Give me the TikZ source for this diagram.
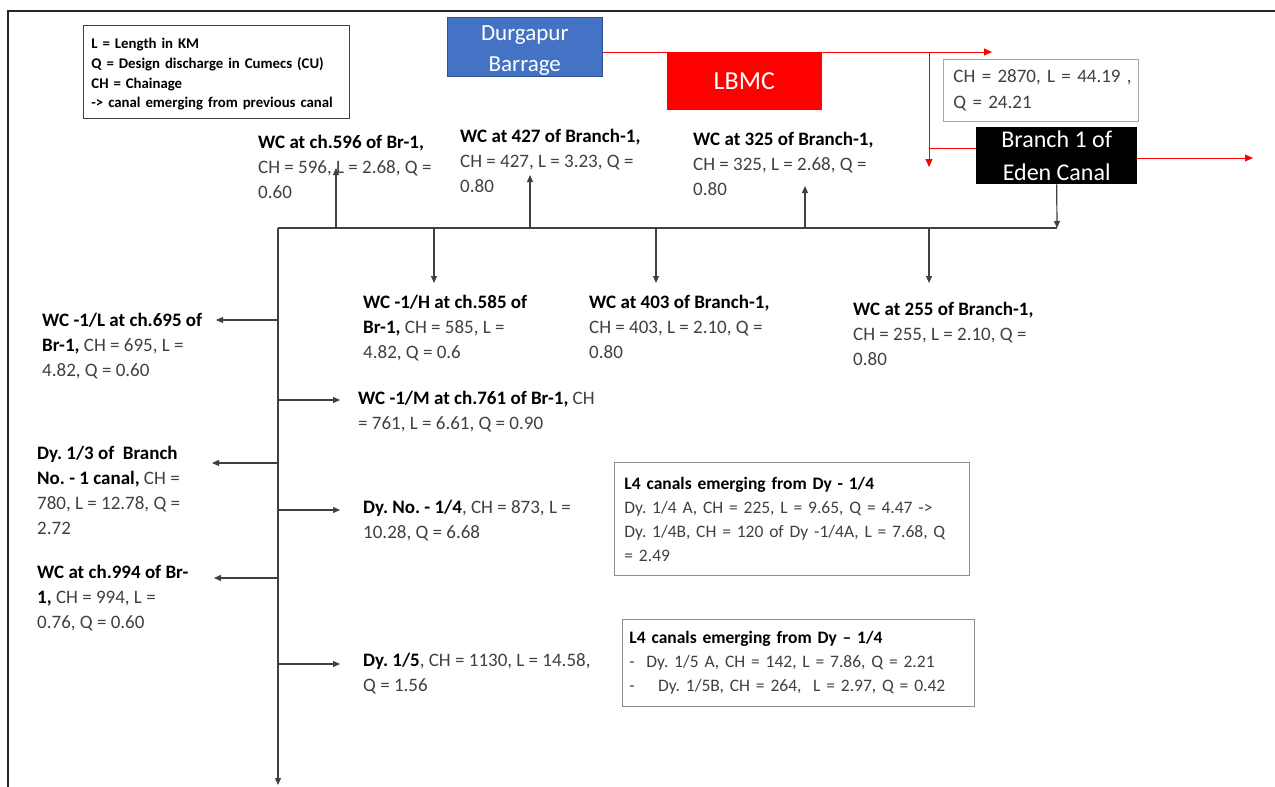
\documentclass[tikz,border=0pt]{standalone}
\usepackage{fontspec}
\setmainfont{Carlito}
\usetikzlibrary{arrows.meta}

\definecolor{txt}{HTML}{404040}
\definecolor{ln}{HTML}{404040}
\definecolor{barrage}{HTML}{4472C4}
\definecolor{barrageedge}{HTML}{2F528F}
\definecolor{frameline}{HTML}{262626}
\definecolor{lightedge}{HTML}{A6A6A6}
\definecolor{noteedge}{HTML}{8C8C8C}

\newcommand\hd[1]{{\bfseries\color{black}#1}}
\newcommand\lblfont{\fontsize{19}{25}\selectfont}
\newcommand\notefont{\fontsize{17.5}{24}\selectfont}

\tikzset{
  lbl/.style={anchor=north west, inner sep=0pt, align=left, font=\lblfont, text=txt},
  notebox/.style={draw=noteedge, line width=0.9pt, anchor=north west, align=left,
    inner ysep=0pt, font=\notefont, text=txt},
  headbox/.style={anchor=north west, align=center, inner sep=0pt, text=white},
  flow/.style={draw=ln, line width=1.2pt, -{Triangle[length=7pt,width=6pt]}},
  trunk/.style={draw=ln, line width=1.2pt},
  redflow/.style={draw=red, line width=0.9pt, -{Triangle[length=8pt,width=7pt]}},
  redline/.style={draw=red, line width=0.9pt},
}

\begin{document}
\frenchspacing
\begin{tikzpicture}[x=1pt,y=-1pt]
\useasboundingbox (0,0) rectangle (1275,787);

% outer frame (left and top edges)
\draw[frameline, line width=1.3pt] (8,787) -- (8,11) -- (1275,11);

% key
\node[draw=txt, line width=0.9pt, anchor=north west, minimum width=266pt, minimum height=93pt,
      text width=250pt, inner xsep=8pt, align=left, font=\fontsize{14.8}{19.7}\selectfont\bfseries]
  (key) at (83,25)
  {\rule{0pt}{15pt}L = Length in KM\\ Q = Design discharge in Cumecs (CU)\\ CH = Chainage\\ -> canal emerging from previous canal};

% main canal heads
\node[headbox, fill=barrage, draw=barrageedge, line width=0.6pt, minimum width=155pt, minimum height=59pt,
      font=\fontsize{23}{31}\selectfont] (dgp) at (447,17) {\rule{0pt}{23pt}Durgapur\\ Barrage};
\coordinate (redtip) at (992,52);
\coordinate (rj) at (929,52);
\coordinate (rdn) at (929,167);
\coordinate (rk) at (929,148);
\node[headbox, fill=red, draw=barrageedge, line width=0.6pt, minimum width=154pt, minimum height=57pt,
      font=\fontsize{26}{30}\selectfont] (lbmc) at (667,52) {LBMC};
\draw[redflow] (dgp.east |- lbmc.north) -- (redtip);
\draw[redflow] (rj) -- (rdn);

\node[draw=lightedge, line width=0.9pt, anchor=north west, minimum width=195pt, minimum height=62pt,
      text width=175pt, inner xsep=10pt, align=left, font=\fontsize{19}{26}\selectfont, text=txt]
  (chbox) at (943,59) {\mbox{CH = 2870, L = 44.19 ,}\\ Q = 24.21};

\node[headbox, fill=black, minimum width=161pt, minimum height=57pt,
      font=\fontsize{24}{33}\selectfont] (br) at (976,127) {Branch 1 of\\ Eden Canal};
\draw[redline] (rk) -- (br.west |- rk);
\coordinate (redout) at (1253,158);
\draw[redflow] (br.east |- redout) -- (redout);

% Branch-1 distribution line
\coordinate (hR) at (1057,228);
\coordinate (hL) at (278,228);
\coordinate (tend) at (278,785);
\draw[flow] (br.south) -- (hR);
\draw[trunk] (hR) -- (hL);
\draw[flow] (hL) -- (tend);

% offtakes on the horizontal
\coordinate (j596) at (336,228);  \coordinate (t596) at (336,168);
\coordinate (j427) at (530,228);  \coordinate (t427) at (530,175);
\coordinate (j325) at (805,228);  \coordinate (t325) at (805,186);
\coordinate (j585) at (434,228);  \coordinate (t585) at (434,283);
\coordinate (j403) at (656,228);  \coordinate (t403) at (656,283);
\coordinate (j255) at (929,228);  \coordinate (t255) at (929,283);
\draw[flow] (j596) -- (t596);
\draw[flow] (j427) -- (t427);
\draw[flow] (j325) -- (t325);
\draw[flow] (j585) -- (t585);
\draw[flow] (j403) -- (t403);
\draw[flow] (j255) -- (t255);

% offtakes on the vertical
\coordinate (j695) at (278,320);  \coordinate (t695) at (216,320);
\coordinate (j761) at (278,400);  \coordinate (t761) at (340,400);
\coordinate (j13)  at (278,463);  \coordinate (t13)  at (212,463);
\coordinate (j14)  at (278,510);  \coordinate (t14)  at (340,510);
\coordinate (j994) at (278,578);  \coordinate (t994) at (214,578);
\coordinate (j15)  at (278,664);  \coordinate (t15)  at (340,664);
\draw[flow] (j695) -- (t695);
\draw[flow] (j761) -- (t761);
\draw[flow] (j13) -- (t13);
\draw[flow] (j14) -- (t14);
\draw[flow] (j994) -- (t994);
\draw[flow] (j15) -- (t15);

% labels
\node[lbl] (n596) at (258,135) {\hd{WC at ch.596 of Br-1,}\\ CH = 596, L = 2.68, Q =\\ 0.60};
\node[lbl] (n427) at (460,129) {\hd{WC at 427 of Branch-1,}\\ CH = 427, L = 3.23, Q =\\ 0.80};
\node[lbl] (n325) at (693,132) {\hd{WC at 325 of Branch-1,}\\ CH = 325, L = 2.68, Q =\\ 0.80};
\node[lbl] (n585) at (363,295) {\hd{WC -1/H at ch.585 of}\\ \hd{Br-1,} CH = 585, L =\\ 4.82, Q = 0.6};
\node[lbl] (n403) at (589,295) {\hd{WC at 403 of Branch-1,}\\ CH = 403, L = 2.10, Q =\\ 0.80};
\node[lbl] (n255) at (853,302) {\hd{WC at 255 of Branch-1,}\\ CH = 255, L = 2.10, Q =\\ 0.80};
\node[lbl] (n695) at (42,313) {\hd{WC -1/L at ch.695 of}\\ \hd{Br-1,} CH = 695, L =\\ 4.82, Q = 0.60};
\node[lbl] (n761) at (358,391) {\hd{WC -1/M at ch.761 of Br-1,} CH\\ = 761, L = 6.61, Q = 0.90};
\node[lbl] (n13) at (37,446) {\hd{Dy. 1/3 of\ \ Branch}\\ \hd{No. - 1 canal,} CH =\\ 780, L = 12.78, Q =\\ 2.72};
\node[lbl] (n14) at (363,500) {\hd{Dy. No. - 1/4}, CH = 873, L =\\ 10.28, Q = 6.68};
\node[lbl] (n994) at (37,565) {\hd{WC at ch.994 of Br-}\\ \hd{1,} CH = 994, L =\\ 0.76, Q = 0.60};
\node[lbl] (n15) at (363,653) {\hd{Dy. 1/5}, CH = 1130, L = 14.58,\\ Q = 1.56};

% L4 canal notes
\node[notebox, minimum width=355pt, minimum height=113pt, text width=335pt, inner xsep=10pt]
  (l4a) at (614,462)
  {\hd{L4 canals emerging from Dy - 1/4}\\ Dy. 1/4 A, CH = 225, L = 9.65, Q = 4.47 ->\\ Dy. 1/4B, CH = 120 of Dy -1/4A, L = 7.68, Q\\ = 2.49};
\node[notebox, minimum width=352pt, minimum height=87pt, text width=338pt, inner xsep=7pt]
  (l4b) at (622,619)
  {\hd{L4 canals emerging from Dy – 1/4}\\ -\ \ Dy. 1/5 A, CH = 142, L = 7.86, Q = 2.21\\ -\ \ \ \ Dy. 1/5B, CH = 264,\ \ L = 2.97, Q = 0.42};
\end{tikzpicture}
\end{document}
